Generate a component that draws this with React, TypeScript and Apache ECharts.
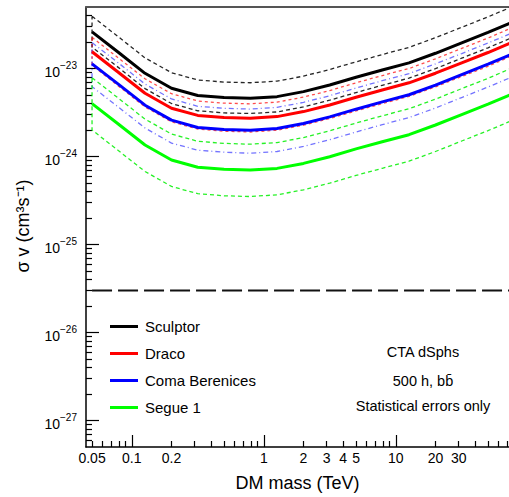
import React, { useEffect, useRef } from 'react';
import * as echarts from 'echarts';

// DM mass grid (TeV)
const massTeV = [0.05, 0.079, 0.126, 0.2, 0.316, 0.5, 0.79, 1.26, 2, 3.16, 5, 7.9, 12.6, 20, 31.6, 50, 79];

// Sculptor (black), sigma v in cm^3 s^-1
const sculptor = [2.61e-23, 1.53e-23, 8.82e-24, 5.97e-24, 4.94e-24, 4.67e-24, 4.59e-24, 4.79e-24, 5.46e-24, 6.5e-24, 7.95e-24, 9.62e-24, 1.16e-23, 1.49e-23, 1.96e-23, 2.57e-23, 3.44e-23];
const sculptorUp = [3.92e-23, 2.3e-23, 1.32e-23, 8.96e-24, 7.41e-24, 7.01e-24, 6.89e-24, 7.19e-24, 8.19e-24, 9.75e-24, 1.19e-23, 1.44e-23, 1.74e-23, 2.24e-23, 2.94e-23, 3.86e-23, 5.16e-23];
const sculptorLo = [1.75e-23, 1.03e-23, 5.91e-24, 4.0e-24, 3.31e-24, 3.13e-24, 3.08e-24, 3.21e-24, 3.66e-24, 4.36e-24, 5.33e-24, 6.45e-24, 7.77e-24, 9.98e-24, 1.31e-23, 1.72e-23, 2.3e-23];

// Draco (red)
const draco = [1.55e-23, 9.07e-24, 5.23e-24, 3.54e-24, 2.93e-24, 2.77e-24, 2.72e-24, 2.84e-24, 3.24e-24, 3.85e-24, 4.71e-24, 5.7e-24, 6.88e-24, 8.84e-24, 1.16e-23, 1.52e-23, 2.04e-23];
const dracoUp = [2.26e-23, 1.32e-23, 7.64e-24, 5.17e-24, 4.28e-24, 4.04e-24, 3.97e-24, 4.15e-24, 4.73e-24, 5.62e-24, 6.88e-24, 8.32e-24, 1.0e-23, 1.29e-23, 1.69e-23, 2.22e-23, 2.98e-23];
const dracoLo = [1.09e-23, 6.35e-24, 3.66e-24, 2.48e-24, 2.05e-24, 1.94e-24, 1.9e-24, 1.99e-24, 2.27e-24, 2.7e-24, 3.3e-24, 3.99e-24, 4.82e-24, 6.19e-24, 8.12e-24, 1.06e-23, 1.43e-23];

// Coma Berenices (blue)
const coma = [1.13e-23, 6.64e-24, 3.83e-24, 2.59e-24, 2.14e-24, 2.03e-24, 1.99e-24, 2.08e-24, 2.37e-24, 2.82e-24, 3.45e-24, 4.18e-24, 5.03e-24, 6.47e-24, 8.51e-24, 1.12e-23, 1.49e-23];
const comaUp = [1.97e-23, 1.16e-23, 6.66e-24, 4.51e-24, 3.72e-24, 3.53e-24, 3.46e-24, 3.62e-24, 4.12e-24, 4.91e-24, 6.0e-24, 7.27e-24, 8.75e-24, 1.13e-23, 1.48e-23, 1.95e-23, 2.59e-23];
const comaLo = [6.22e-24, 3.65e-24, 2.11e-24, 1.42e-24, 1.18e-24, 1.12e-24, 1.09e-24, 1.14e-24, 1.3e-24, 1.55e-24, 1.9e-24, 2.3e-24, 2.77e-24, 3.56e-24, 4.68e-24, 6.16e-24, 8.2e-24];

// Segue 1 (green)
const segue = [3.99e-24, 2.34e-24, 1.35e-24, 9.13e-25, 7.56e-25, 7.15e-25, 7.02e-25, 7.33e-25, 8.35e-25, 9.95e-25, 1.22e-24, 1.47e-24, 1.77e-24, 2.28e-24, 3.0e-24, 3.93e-24, 5.26e-24];
const segueUp = [7.86e-24, 4.61e-24, 2.66e-24, 1.8e-24, 1.49e-24, 1.41e-24, 1.38e-24, 1.44e-24, 1.64e-24, 1.96e-24, 2.4e-24, 2.9e-24, 3.49e-24, 4.49e-24, 5.91e-24, 7.74e-24, 1.04e-23];
const segueLo = [2.0e-24, 1.17e-24, 6.75e-25, 4.57e-25, 3.78e-25, 3.58e-25, 3.51e-25, 3.67e-25, 4.18e-25, 4.98e-25, 6.1e-25, 7.35e-25, 8.85e-25, 1.14e-24, 1.5e-24, 1.97e-24, 2.63e-24];

const thermalRelic = 3e-26;
const thermalMass = [0.05, 100];

const xTickLabels = [0.05, 0.1, 0.2, 1, 2, 3, 4, 5, 10, 20, 30];
const xMajorTicks = [0.1, 1, 10];
const yTickExponents = [-27, -26, -25, -24, -23];

// The y axis is plotted in units of 1e-28 cm^3 s^-1 (avoids float rounding of tiny numbers)
const Y_UNIT_EXP = -28;
const Y_UNIT = 1e-28;

const X_MIN = 0.045;
const X_MAX = 72.1;
const Y_MIN = 5;
const Y_MAX = 500000;
const FONT = '"Liberation Sans", Arial, Helvetica, sans-serif';

function pairs(vals: number[]) {
  return massTeV.map((m, i) => [m, vals[i] / Y_UNIT]);
}
function loop(up: number[], lo: number[]) {
  const a = up.map((v, i) => [massTeV[i], v / Y_UNIT]);
  const b = lo.map((v, i) => [massTeV[i], v / Y_UNIT]).reverse();
  return [...a, ...b, [massTeV[0], up[0] / Y_UNIT]];
}

function xMinorTicks() {
  const out: number[] = [];
  for (let d = -2; d <= 1; d++) {
    for (let k = 2; k <= 9; k++) {
      const v = k * Math.pow(10, d);
      if (v >= X_MIN && v <= X_MAX) out.push(v);
    }
  }
  return out;
}
function yMinorTicks() {
  const out: number[] = [];
  for (let d = 0; d <= 5; d++) {
    for (let k = 2; k <= 9; k++) {
      const v = k * Math.pow(10, d);
      if (v > Y_MIN + 0.01 && v < Y_MAX - 1) out.push(v);
    }
  }
  return out;
}

export default function App() {
  const ref = useRef<HTMLDivElement>(null);
  useEffect(() => {
    if (!ref.current) return;
    const chart = echarts.init(ref.current, undefined, { renderer: 'svg' });

    const solid = (name: string, color: string, vals: number[]) => ({
      name,
      type: 'line',
      data: pairs(vals),
      symbol: 'none',
      z: 5,
      lineStyle: { color, width: 3, type: 'solid' },
      itemStyle: { color },
    });
    const band = (name: string, color: string, up: number[], lo: number[], dash: number[], opacity: number) => ({
      name,
      type: 'line',
      data: loop(up, lo),
      symbol: 'none',
      z: 3,
      lineStyle: { color, width: 1.3, type: dash, opacity },
      itemStyle: { color },
    });

    const yMajor = yTickExponents.map((e) => Math.pow(10, e - Y_UNIT_EXP));

    const option: any = {
      animation: false,
      grid: { left: 86, right: 0, top: 7, bottom: 49 },
      xAxis: [
        {
          type: 'log',
          logBase: 10,
          min: X_MIN,
          max: X_MAX,
          position: 'bottom',
          name: 'DM mass (TeV)',
          nameLocation: 'middle',
          nameGap: 27,
          nameTextStyle: { fontSize: 18, color: '#000', fontFamily: FONT },
          axisLine: { show: true, lineStyle: { color: '#000', width: 1.5 } },
          axisTick: { show: true, inside: true, length: 12, customValues: xMajorTicks, lineStyle: { color: '#000', width: 1.2 } },
          axisLabel: {
            show: true,
            customValues: xTickLabels,
            margin: 4,
            fontSize: 14,
            color: '#000',
            fontFamily: FONT,
            formatter: (v: number) => String(+Number(v).toPrecision(3)),
          },
          splitLine: { show: false },
        },
        {
          type: 'log',
          logBase: 10,
          min: X_MIN,
          max: X_MAX,
          position: 'bottom',
          offset: 0,
          axisLine: { show: false },
          axisTick: { show: true, inside: true, length: 6, customValues: xMinorTicks(), lineStyle: { color: '#000', width: 1.2 } },
          axisLabel: { show: false },
          splitLine: { show: false },
        },
        {
          type: 'log',
          logBase: 10,
          min: X_MIN,
          max: X_MAX,
          position: 'top',
          axisLine: { show: true, lineStyle: { color: '#555', width: 2 } },
          axisTick: { show: false },
          axisLabel: { show: false },
          splitLine: { show: false },
        },
      ],
      yAxis: [
        {
          type: 'log',
          min: Y_MIN,
          max: Y_MAX,
          axisLine: { show: true, lineStyle: { color: '#000', width: 1.5 } },
          axisTick: {
            show: true,
            inside: true,
            length: 13,
            customValues: yMajor,
            lineStyle: { color: '#000', width: 1.2 },
          },
          axisLabel: {
            show: true,
            customValues: yMajor,
            margin: 9,
            formatter: (v: number) => {
              const e = Math.round(Math.log10(v)) + Y_UNIT_EXP;
              return `{b|10}{e|\u2212${-e}}`;
            },
            rich: {
              b: { fontSize: 14, color: '#000', fontFamily: FONT, padding: [6, 0, 0, 0] },
              e: { fontSize: 10, color: '#000', fontFamily: FONT, padding: [0, 0, 6, 0] },
            },
          },
          splitLine: { show: false },
        },
        {
          type: 'log',
          min: Y_MIN,
          max: Y_MAX,
          position: 'left',
          offset: 0,
          axisLine: { show: false },
          axisTick: { show: true, inside: true, length: 6, customValues: yMinorTicks(), lineStyle: { color: '#000', width: 1.2 } },
          axisLabel: { show: false },
          splitLine: { show: false },
        },
      ],
      legend: {
        data: ['Sculptor', 'Draco', 'Coma Berenices', 'Segue 1'],
        orient: 'vertical',
        left: 110,
        top: 319,
        padding: 0,
        icon: 'rect',
        itemWidth: 28,
        itemHeight: 3,
        itemGap: 12,
        textStyle: { fontSize: 15, color: '#000', fontFamily: FONT, padding: [0, 0, 0, 2] },
      },
      graphic: [
        { type: 'text', x: 23, y: 226, rotation: Math.PI / 2, style: { text: 'σ v (cm³s⁻¹)', fontSize: 18, fill: '#000', fontFamily: FONT, textAlign: 'center', textVerticalAlign: 'middle' } },
        { type: 'text', x: 423, y: 352, style: { text: 'CTA dSphs', fontSize: 14.5, fill: '#000', fontFamily: FONT, textAlign: 'center', textVerticalAlign: 'middle' } },
        { type: 'text', x: 423, y: 381, style: { text: '500 h, bb\u0304', fontSize: 14.5, fill: '#000', fontFamily: FONT, textAlign: 'center', textVerticalAlign: 'middle' } },
        { type: 'text', x: 423, y: 406, style: { text: 'Statistical errors only', fontSize: 14.5, fill: '#000', fontFamily: FONT, textAlign: 'center', textVerticalAlign: 'middle' } },
      ],
      series: [
        band('Sculptor band', '#000000', sculptorUp, sculptorLo, [4, 3], 0.85),
        band('Draco band', '#ff0000', dracoUp, dracoLo, [3, 3], 0.7),
        band('Coma Berenices band', '#0000ff', comaUp, comaLo, [5, 3, 1, 3], 0.55),
        band('Segue 1 band', '#00ee00', segueUp, segueLo, [4, 3], 0.85),
        {
          name: 'Thermal relic',
          type: 'line',
          data: thermalMass.map((m) => [m, thermalRelic / Y_UNIT]),
          symbol: 'none',
          z: 4,
          lineStyle: { color: '#111', width: 2, type: [20, 6] },
        },
        solid('Sculptor', '#000000', sculptor),
        solid('Draco', '#ff0000', draco),
        solid('Coma Berenices', '#0000ff', coma),
        solid('Segue 1', '#00ff00', segue),
      ],
    };
    chart.setOption(option);
    return () => chart.dispose();
  }, []);
  return <div ref={ref} style={{ position: 'fixed', left: 0, top: 0, width: 509, height: 497, background: '#fff' }} />;
}
